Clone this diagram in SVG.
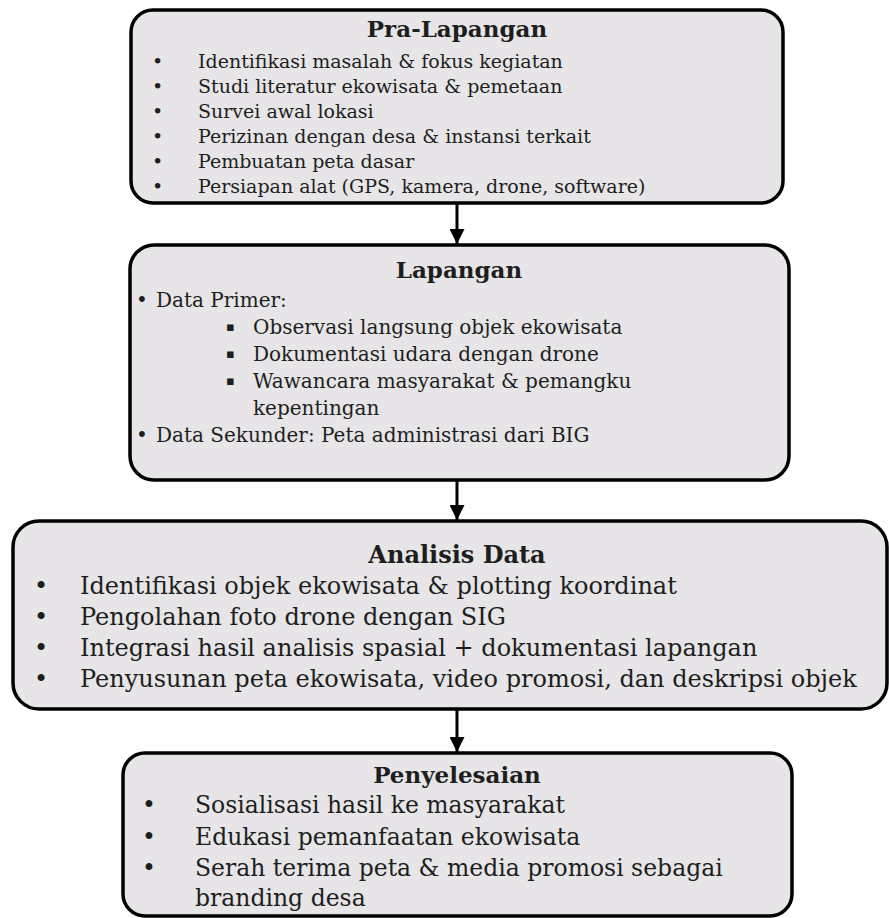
<svg xmlns="http://www.w3.org/2000/svg" width="889" height="918" viewBox="0 0 889 918">
<defs>
<marker id="ah" viewBox="0 0 10 10" refX="10" refY="5" markerWidth="5" markerHeight="5" markerUnits="strokeWidth" orient="auto">
<path d="M0,0 L10,5 L0,10 z" fill="#000"/>
</marker>
<style>
.box{fill:#e7e5e7;stroke:#000;stroke-width:3.5}
text{font-family:"DejaVu Serif","Liberation Serif",serif;fill:#1e1e1e}
.t{font-weight:bold;text-anchor:middle}
.sq{font-size:13px}
.conn{stroke:#000;stroke-width:3;fill:none}
</style>
</defs>
<rect width="889" height="918" fill="#fff"/>
<g id="connectors">
<line class="conn" x1="457" y1="203" x2="457" y2="244" marker-end="url(#ah)"/>
<line class="conn" x1="457" y1="480" x2="457" y2="520" marker-end="url(#ah)"/>
<line class="conn" x1="457" y1="710" x2="457" y2="752" marker-end="url(#ah)"/>
</g>
<g id="pra-lapangan">
<rect class="box" x="131" y="10" width="652" height="193" rx="22"/>
<text class="t" x="457" y="37" font-size="23">Pra-Lapangan</text>
<g font-size="19">
<text x="152" y="68">•</text><text x="198" y="68">Identifikasi masalah &amp; fokus kegiatan</text>
<text x="152" y="93">•</text><text x="198" y="93">Studi literatur ekowisata &amp; pemetaan</text>
<text x="152" y="118">•</text><text x="198" y="118">Survei awal lokasi</text>
<text x="152" y="143">•</text><text x="198" y="143">Perizinan dengan desa &amp; instansi terkait</text>
<text x="152" y="168">•</text><text x="198" y="168">Pembuatan peta dasar</text>
<text x="152" y="193">•</text><text x="198" y="193">Persiapan alat (GPS, kamera, drone, software)</text>
</g>
</g>
<g id="lapangan">
<rect class="box" x="130" y="245" width="659" height="235" rx="24"/>
<text class="t" x="459" y="278" font-size="23">Lapangan</text>
<g font-size="20">
<text x="136" y="307">•</text><text x="156" y="307">Data Primer:</text>
<text class="sq" x="226" y="331">▪</text><text x="253" y="334">Observasi langsung objek ekowisata</text>
<text class="sq" x="226" y="358">▪</text><text x="253" y="361">Dokumentasi udara dengan drone</text>
<text class="sq" x="226" y="385">▪</text><text x="253" y="388">Wawancara masyarakat &amp; pemangku</text>
<text x="253" y="415">kepentingan</text>
<text x="136" y="442">•</text><text x="156" y="442">Data Sekunder: Peta administrasi dari BIG</text>
</g>
</g>
<g id="analisis-data">
<rect class="box" x="13" y="521" width="874" height="188" rx="26"/>
<text class="t" x="457" y="563" font-size="24">Analisis Data</text>
<g font-size="24">
<text x="34" y="594">•</text><text x="80" y="594">Identifikasi objek ekowisata &amp; plotting koordinat</text>
<text x="34" y="625">•</text><text x="80" y="625">Pengolahan foto drone dengan SIG</text>
<text x="34" y="656">•</text><text x="80" y="656">Integrasi hasil analisis spasial + dokumentasi lapangan</text>
<text x="34" y="687">•</text><text x="80" y="687">Penyusunan peta ekowisata, video promosi, dan deskripsi objek</text>
</g>
</g>
<g id="penyelesaian">
<rect class="box" x="123" y="753" width="669" height="163" rx="22"/>
<text class="t" x="457" y="783" font-size="23">Penyelesaian</text>
<g font-size="23.5">
<text x="142" y="813">•</text><text x="195" y="813">Sosialisasi hasil ke masyarakat</text>
<text x="142" y="845">•</text><text x="195" y="845">Edukasi pemanfaatan ekowisata</text>
<text x="142" y="876">•</text><text x="195" y="876">Serah terima peta &amp; media promosi sebagai</text>
<text x="195" y="906">branding desa</text>
</g>
</g>
</svg>
